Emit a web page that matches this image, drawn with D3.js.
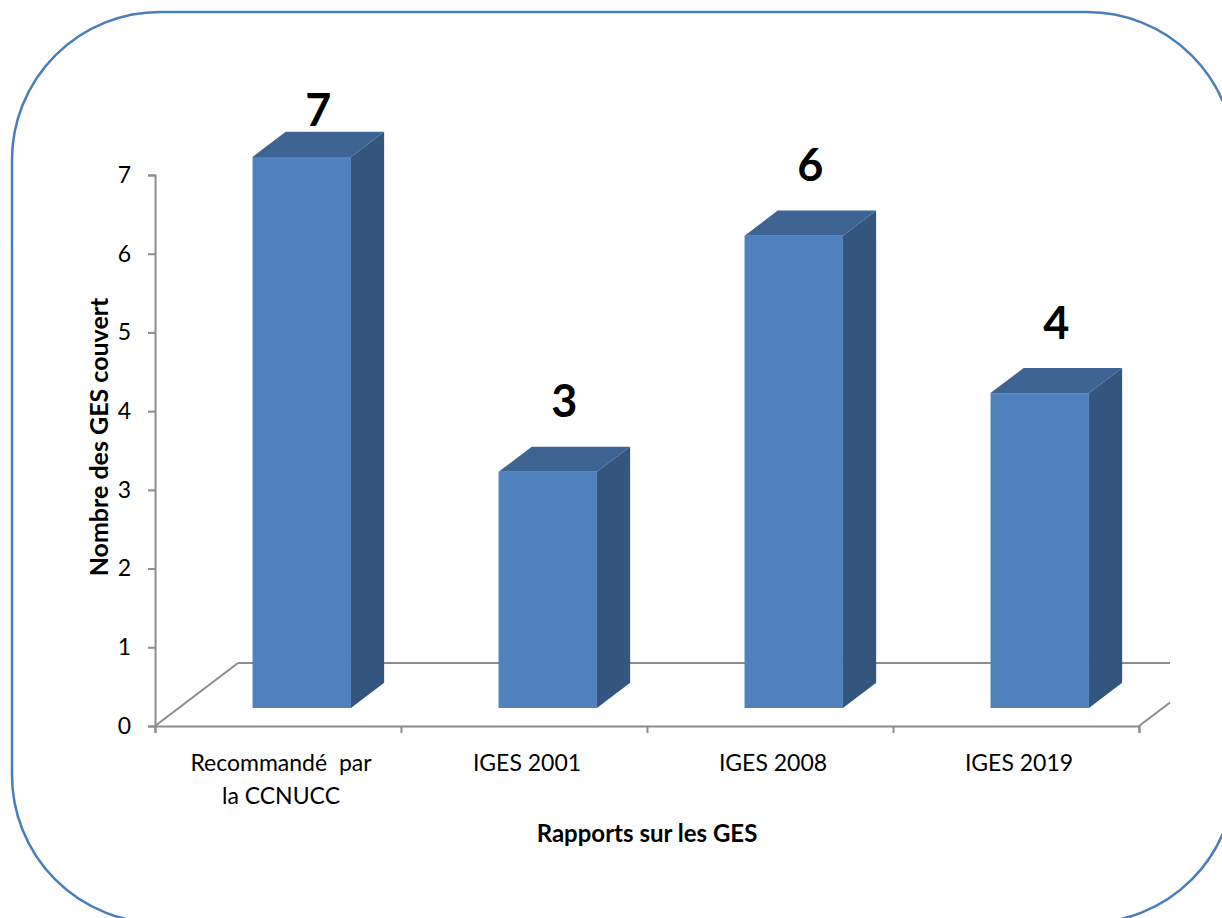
<!DOCTYPE html>
<html>
<head>
<meta charset="utf-8">
<script src="https://cdn.jsdelivr.net/npm/d3@7"></script>
<style>
  html, body { margin: 0; padding: 0; background: #fff; }
  svg { display: block; }
  text { font-family: Lato, "Open Sans", sans-serif; fill: #000; }
</style>
</head>
<body>
<svg id="chart" width="1222" height="918"></svg>
<script>
// Number of greenhouse gases covered by each report
const categories = ["Recommandé  par\nla CCNUCC", "IGES 2001", "IGES 2008", "IGES 2019"];
const values = [7, 3, 6, 4];
const yTicks = [0, 1, 2, 3, 4, 5, 6, 7];
const yTitle = "Nombre des GES couvert";
const xTitle = "Rapports sur les GES";

const svg = d3.select("#chart");

// Front plane of the 3D plot
const left = 155, right = 1139, baseY = 726, topY = 175;
// Floor depth vector (front edge to back wall)
const depthX = 83, depthY = -63;
// Bars occupy this slice of the floor depth
const f0 = 0.286, f1 = 0.686;

const x = d3.scaleBand().domain(categories).range([left, right]).paddingInner(0).paddingOuter(0);
const xEdges = d3.scaleLinear().domain([0, categories.length]).range([left, right]);
const y = d3.scaleLinear().domain([0, 7]).range([baseY, topY]);

const gray = "#8c8c8c";
const cFront = "#4f81bd", cSide = "#34557e", cTop = "#3d6493";

// Rounded frame
svg.append("rect")
  .attr("x", 12).attr("y", 12)
  .attr("width", 1223).attr("height", 911)
  .attr("rx", 148).attr("ry", 148)
  .attr("fill", "none").attr("stroke", "#4a7ebb").attr("stroke-width", 2.5);

// Floor: left diagonal, back edge, right diagonal (clipped)
const floor = svg.append("g").attr("stroke", gray).attr("stroke-width", 2).attr("fill", "none");
floor.append("line")
  .attr("x1", left).attr("y1", baseY)
  .attr("x2", left + depthX).attr("y2", baseY + depthY);
floor.append("line")
  .attr("x1", left + depthX).attr("y1", baseY + depthY)
  .attr("x2", right + 31).attr("y2", baseY + depthY);
floor.append("line")
  .attr("x1", right).attr("y1", baseY)
  .attr("x2", right + 31).attr("y2", baseY + depthY * 31 / depthX);

// Bars
const bw = x.bandwidth() * 0.4;
const pad = (x.bandwidth() - bw) / 2;
const dx0 = depthX * f0, dy0 = depthY * f0;
const ddx = depthX * (f1 - f0), ddy = depthY * (f1 - f0);

const bars = svg.append("g").selectAll("g").data(values).join("g");
bars.each(function (v, i) {
  const g = d3.select(this);
  const xl = x(categories[i]) + pad + dx0;
  const xr = xl + bw;
  const yt = y(v) + dy0;
  const yb = y(0) + dy0;
  // side face
  g.append("path")
    .attr("d", `M${xr},${yt}L${xr + ddx},${yt + ddy}L${xr + ddx},${yb + ddy}L${xr},${yb}Z`)
    .attr("fill", cSide);
  // top face
  g.append("path")
    .attr("d", `M${xl},${yt}L${xl + ddx},${yt + ddy}L${xr + ddx},${yt + ddy}L${xr},${yt}Z`)
    .attr("fill", cTop);
  // front face
  g.append("rect")
    .attr("x", xl).attr("y", yt)
    .attr("width", bw).attr("height", yb - yt)
    .attr("fill", cFront);
  // value label, kept inside the plot area
  const ly = Math.max(126, yt + ddy / 2 - 42);
  g.append("text")
    .attr("x", xl + bw / 2 + ddx / 2)
    .attr("y", ly)
    .attr("text-anchor", "middle")
    .attr("font-weight", "bold")
    .attr("font-size", 45)
    .text(v);
});

// Y axis
const yAxis = svg.append("g")
  .attr("transform", `translate(${left},0)`)
  .call(d3.axisLeft(y).tickValues(yTicks).tickSize(7).tickPadding(17).tickFormat(d3.format("d")));
yAxis.select(".domain").attr("stroke", gray).attr("stroke-width", 2);
yAxis.selectAll(".tick line").attr("stroke", gray).attr("stroke-width", 2);
yAxis.selectAll(".tick text").attr("font-size", 23).attr("font-family", "Lato, sans-serif").attr("fill", "#000");

// X axis: tick marks at category boundaries
const xAxis = svg.append("g")
  .attr("transform", `translate(0,${baseY})`)
  .call(d3.axisBottom(xEdges).tickValues(d3.range(categories.length + 1)).tickSize(7).tickFormat(""));
xAxis.select(".domain").attr("stroke", gray).attr("stroke-width", 2);
xAxis.selectAll(".tick line").attr("stroke", gray).attr("stroke-width", 2);

// Category labels
const catG = svg.append("g");
categories.forEach((c, i) => {
  const cx = x(c) + x.bandwidth() / 2 + 3;
  const t = catG.append("text")
    .attr("x", cx)
    .attr("y", 771)
    .attr("text-anchor", "middle")
    .attr("font-size", 23)
    .style("white-space", "pre");
  c.split("\n").forEach((line, k) => {
    t.append("tspan")
      .attr("x", cx)
      .attr("dy", k === 0 ? 0 : 33)
      .text(line);
  });
});

// Axis titles
svg.append("text")
  .attr("transform", "translate(108,437) rotate(-90)")
  .attr("text-anchor", "middle")
  .attr("font-weight", "bold")
  .attr("font-size", 25)
  .text(yTitle);

svg.append("text")
  .attr("x", 647).attr("y", 842)
  .attr("text-anchor", "middle")
  .attr("font-weight", "bold")
  .attr("font-size", 24)
  .text(xTitle);
</script>
</body>
</html>
